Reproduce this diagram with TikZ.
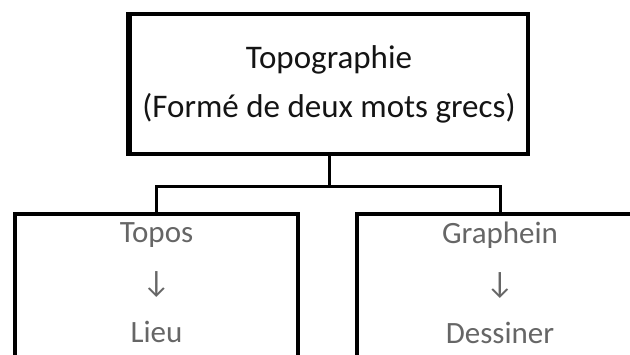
\documentclass[tikz,border=0pt]{standalone}
\usepackage{fontspec}
\setmainfont{Carlito}
\begin{document}
\begin{tikzpicture}[x=1pt,y=-1pt,
  box/.style={draw=black, line width=3.2pt, rectangle, align=center, inner sep=0pt},
  link/.style={draw=black, line width=3pt},
  toptext/.style={text=black!92, font=\fontsize{33}{49}\selectfont},
  subtext/.style={text=black!60, align=center, inner sep=0pt, font=\fontsize{31}{50}\selectfont}]
\useasboundingbox (0,0) rectangle (630,354);
\clip (0,0) rectangle (630,354);

% root box
\node[box, toptext, minimum width=398pt, minimum height=140pt] (root) at (329,84)
  {Topographie\\(Formé de deux mots grecs)};
% heavier left side of the root box
\draw[line width=5.5pt] ([xshift=0.6pt]root.north west) -- ([xshift=0.6pt]root.south west);

% the two word boxes, running past the lower and right edges
\node[box, minimum width=283pt, minimum height=160pt] (toposbox) at (156.5,294) {};
\node[box, minimum width=286pt, minimum height=160pt] (grapheinbox) at (500,294) {};
\node[subtext] (topos) at (156.5,283) {Topos\\↓\\Lieu};
\node[subtext] (graphein) at (500,283) {Graphein\\↓\\Dessiner};

% tree connector
\coordinate (fork) at (329,186);
\draw[link] (root.south) -- (fork);
\draw[link] (fork) -| (toposbox.north);
\draw[link] (fork) -| (grapheinbox.north);
\end{tikzpicture}
\end{document}
